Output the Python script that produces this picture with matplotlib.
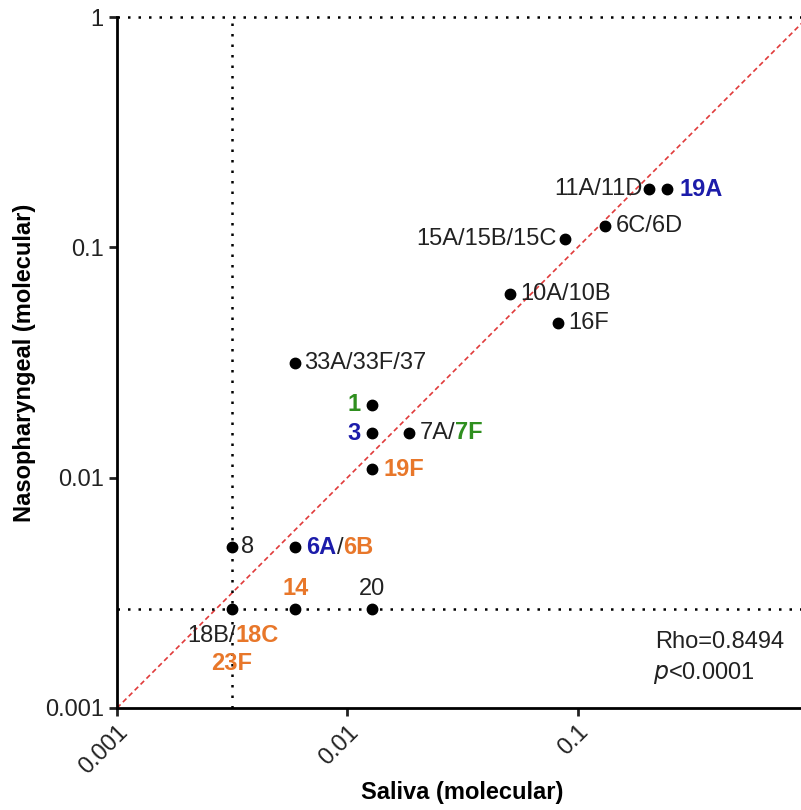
import matplotlib
matplotlib.use('Agg')
import matplotlib.pyplot as plt
import numpy as np

plt.rcParams['font.family'] = ['Liberation Sans', 'DejaVu Sans']

# serotype data: saliva vs nasopharyngeal (molecular)
saliva = [0.00316, 0.0059, 0.0128, 0.00316, 0.0059, 0.0128, 0.0128, 0.0128,
          0.0185, 0.0059, 0.0507, 0.0818, 0.0879, 0.131, 0.205, 0.245]
naso = [0.0027, 0.0027, 0.0027, 0.0050, 0.0050, 0.0109, 0.0156, 0.0207,
        0.0156, 0.0314, 0.0625, 0.0468, 0.109, 0.124, 0.179, 0.179]

lod_x = 0.00316
lod_y = 0.0027
rho_text = 'Rho=0.8494'

BLK = '#222222'
GRN = '#2f8f1f'
BLU = '#1c1caa'
ORG = '#e8772a'

# label pieces per point: list of (text, colour, bold), offset in px, align
labels = [
    ([('18B/', BLK, False), ('18C', ORG, True)], (-45, -27), 'left'),
    ([('14', ORG, True)], (1, 20), 'center'),
    ([('20', BLK, False)], (0, 20), 'center'),
    ([('8', BLK, False)], (9, 0), 'left'),
    ([('6A', BLU, True), ('/', BLK, False), ('6B', ORG, True)], (12, 0), 'left'),
    ([('19F', ORG, True)], (11, 0), 'left'),
    ([('3', BLU, True)], (-11, 0), 'right'),
    ([('1', GRN, True)], (-11, 0), 'right'),
    ([('7A/', BLK, False), ('7F', GRN, True)], (11, 0), 'left'),
    ([('33A/33F/37', BLK, False)], (10, 0), 'left'),
    ([('10A/10B', BLK, False)], (11, 0), 'left'),
    ([('16F', BLK, False)], (11, 0), 'left'),
    ([('15A/15B/15C', BLK, False)], (-8, 0), 'right'),
    ([('6C/6D', BLK, False)], (11, 0), 'left'),
    ([('11A/11D', BLK, False)], (-7, 0), 'right'),
    ([('19A', BLU, True)], (12, 0), 'left'),
]

fig = plt.figure(figsize=(8.01, 8.10), dpi=100)
ax = fig.add_axes([117/801, 102/810, 691/801, 691/810])
ax.set_xscale('log')
ax.set_yscale('log')
ax.set_xlim(0.001, 1)
ax.set_ylim(0.001, 1)

# identity line
ax.plot([0.001, 1], [0.001, 1], color='#e03a3a', lw=1.2, ls=(0, (3, 2)), zorder=1)
# detection limits
dot = (0, (1, 3.2))
ax.axvline(lod_x, color='black', lw=1.8, ls=dot, zorder=1)
ax.axhline(lod_y, color='black', lw=1.8, ls=dot, zorder=1)
ax.axhline(1, color='black', lw=1.8, ls=dot, zorder=1, clip_on=False)

ax.plot(saliva, naso, 'o', color='black', ms=7.5, zorder=3)

fs = 17
for (x, y), (pieces, off, ha) in zip(zip(saliva, naso), labels):
    if ha == 'right':
        pieces_draw = list(reversed(pieces))
    else:
        pieces_draw = pieces
    prev = None
    for txt, col, bold in pieces_draw:
        w = 'bold' if bold else 'normal'
        if prev is None:
            prev = ax.annotate(txt, (x, y), xytext=off, textcoords='offset pixels',
                               ha=ha, va='center', color=col, fontsize=fs, fontweight=w)
        elif ha == 'right':
            prev = ax.annotate(txt, (0, 0), xycoords=prev, ha='right', va='bottom',
                               color=col, fontsize=fs, fontweight=w)
        else:
            prev = ax.annotate(txt, (1, 0), xycoords=prev, ha='left', va='bottom',
                               color=col, fontsize=fs, fontweight=w)

# 23F below the 18B/18C label
ax.annotate('23F', (saliva[0], naso[0]), xytext=(0, -55), textcoords='offset pixels',
            ha='center', va='center', color=ORG, fontsize=fs, fontweight='bold')

ax.text(0.779, 0.0955, rho_text, transform=ax.transAxes, fontsize=fs, color=BLK, va='center')
ax.text(0.776, 0.0507, r'$\it{p}$<0.0001', transform=ax.transAxes, fontsize=fs, color=BLK, va='center')

ax.spines['top'].set_visible(False)
ax.spines['right'].set_visible(False)
ax.spines['left'].set_linewidth(2)
ax.spines['bottom'].set_linewidth(2)

ticks = [0.001, 0.01, 0.1, 1]
ticklabels = ['0.001', '0.01', '0.1', '1']
ax.set_xticks(ticks)
ax.set_xticklabels(ticklabels)
ax.set_yticks(ticks)
ax.set_yticklabels(ticklabels)
ax.minorticks_off()
ax.tick_params(width=2, length=6, labelsize=fs, colors=BLK)
plt.setp(ax.get_xticklabels(), rotation=45, ha='right', rotation_mode='anchor')

ax.set_xlabel('Saliva (molecular)', fontsize=fs, fontweight='bold', labelpad=2)
ax.set_ylabel('Nasopharyngeal (molecular)', fontsize=fs, fontweight='bold', labelpad=6)

fig.savefig('out.png', dpi=100)
